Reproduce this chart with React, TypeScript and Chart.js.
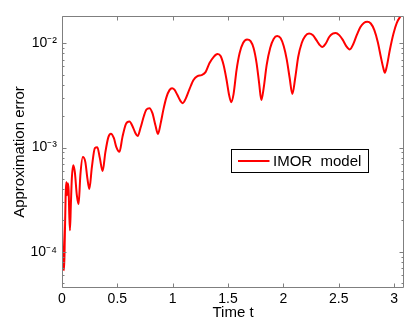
import React, { useEffect, useRef } from 'react';
import { Chart, registerables } from 'chart.js';

Chart.register(...registerables);

const timeValues = [0, 0.0045, 0.012, 0.019, 0.025, 0.033, 0.039, 0.046, 0.052, 0.060, 0.066, 0.072, 0.080, 0.089, 0.102, 0.116, 0.134, 0.150, 0.166, 0.188, 0.211, 0.229, 0.247, 0.270, 0.297, 0.319, 0.342, 0.367, 0.392, 0.419, 0.442, 0.469, 0.491, 0.519, 0.546, 0.577, 0.609, 0.641, 0.663, 0.684, 0.709, 0.740, 0.763, 0.790, 0.817, 0.844, 0.867, 0.890, 0.917, 0.944, 0.971, 0.994, 1.016, 1.043, 1.071, 1.091, 1.116, 1.152, 1.188, 1.224, 1.261, 1.297, 1.333, 1.369, 1.405, 1.433, 1.460, 1.487, 1.510, 1.529, 1.550, 1.577, 1.605, 1.636, 1.672, 1.704, 1.731, 1.758, 1.781, 1.801, 1.822, 1.849, 1.881, 1.912, 1.944, 1.976, 2.003, 2.030, 2.057, 2.081, 2.107, 2.134, 2.166, 2.197, 2.232, 2.265, 2.297, 2.329, 2.353, 2.383, 2.414, 2.446, 2.473, 2.505, 2.537, 2.568, 2.600, 2.632, 2.663, 2.695, 2.727, 2.758, 2.790, 2.822, 2.853, 2.881, 2.903, 2.917, 2.935, 2.962, 2.994, 3.025, 3.057, 3.089];

const errorValues = [2.25e-4, 1.29e-4, 6.98e-5, 6.67e-5, 1.29e-4, 3.50e-4, 4.67e-4, 3.50e-4, 4.56e-4, 3.91e-4, 2.25e-4, 1.61e-4, 2.81e-4, 5.09e-4, 6.79e-4, 5.82e-4, 3.50e-4, 2.87e-4, 5.45e-4, 8.11e-4, 7.26e-4, 5.09e-4, 4.00e-4, 6.50e-4, 9.89e-4, 1.01e-3, 7.93e-4, 5.95e-4, 9.06e-4, 1.26e-3, 1.36e-3, 1.23e-3, 1.01e-3, 9.12e-4, 1.26e-3, 1.68e-3, 1.78e-3, 1.57e-3, 1.38e-3, 1.29e-3, 1.54e-3, 2.01e-3, 2.32e-3, 2.39e-3, 2.14e-3, 1.64e-3, 1.35e-3, 1.68e-3, 2.34e-3, 3.05e-3, 3.56e-3, 3.72e-3, 3.60e-3, 3.19e-3, 2.79e-3, 2.67e-3, 2.92e-3, 3.64e-3, 4.45e-3, 4.85e-3, 4.96e-3, 5.30e-3, 6.47e-3, 7.39e-3, 7.89e-3, 7.55e-3, 6.19e-3, 4.45e-3, 3.19e-3, 2.73e-3, 3.26e-3, 5.54e-3, 8.07e-3, 1.007e-2, 1.09e-2, 1.05e-2, 9.01e-3, 6.47e-3, 4.16e-3, 2.86e-3, 3.72e-3, 6.19e-3, 9.01e-3, 1.10e-2, 1.175e-2, 1.12e-2, 9.42e-3, 7.06e-3, 4.65e-3, 3.26e-3, 4.65e-3, 7.39e-3, 1.007e-2, 1.175e-2, 1.24e-2, 1.20e-2, 1.08e-2, 9.63e-3, 9.21e-3, 9.96e-3, 1.15e-2, 1.24e-2, 1.26e-2, 1.20e-2, 1.08e-2, 9.42e-3, 8.75e-3, 9.85e-3, 1.20e-2, 1.43e-2, 1.57e-2, 1.61e-2, 1.55e-2, 1.34e-2, 1.03e-2, 7.39e-3, 5.79e-3, 5.22e-3, 6.05e-3, 8.63e-3, 1.23e-2, 1.57e-2, 1.81e-2, 2.0e-2];

const xTickValues = [0, 0.5, 1, 1.5, 2, 2.5, 3];
const xTickLabels = ['0', '0.5', '1', '1.5', '2', '2.5', '3'];
const yDecadeValues = [1e-4, 1e-3, 1e-2];
const yDecadeLabels = ['10⁻⁴', '10⁻³', '10⁻²'];
const seriesLabel = 'IMOR  model';
const xTitle = 'Time t';
const yTitle = 'Approximation error';
const xRange = [0, 3.09];
const yRange = [4.5e-5, 1.83e-2];

const FONT = 'Liberation Sans, Arial, Helvetica, sans-serif';
const AXIS_COLOR = '#7f7f7f';

const framePlugin = {
  id: 'matlabFrame',
  afterDatasetsDraw(chart: any) {
    const { ctx, chartArea: ca, scales } = chart;
    const xs = scales.x;
    const ys = scales.y;
    const L = Math.round(ca.left) + 0.5;
    const R = Math.round(ca.right) - 0.5;
    const T = Math.round(ca.top) + 0.5;
    const B = Math.round(ca.bottom) - 0.5;
    ctx.save();
    ctx.strokeStyle = AXIS_COLOR;
    ctx.lineWidth = 1;
    ctx.beginPath();
    ctx.rect(L, T, R - L, B - T);
    ctx.stroke();
    ctx.beginPath();
    xTickValues.forEach((v) => {
      const px = Math.round(xs.getPixelForValue(v)) + 0.5;
      ctx.moveTo(px, B);
      ctx.lineTo(px, B - 4);
      ctx.moveTo(px, T);
      ctx.lineTo(px, T + 4);
    });
    for (let e = -6; e <= 0; e++) {
      const d = Math.pow(10, e);
      for (let k = 1; k <= 9; k++) {
        const v = k * d;
        if (v < yRange[0] || v > yRange[1]) continue;
        const py = Math.round(ys.getPixelForValue(v)) + 0.5;
        const len = k === 1 ? 4 : 2;
        ctx.moveTo(L, py);
        ctx.lineTo(L + len, py);
        ctx.moveTo(R, py);
        ctx.lineTo(R - len, py);
      }
    }
    ctx.stroke();
    ctx.restore();
  },
  afterDraw(chart: any) {
    const { ctx, chartArea: ca } = chart;
    const ds = chart.data.datasets[0];
    const bx = Math.round(ca.left + 168.5) + 0.5;
    const by = Math.round(ca.top + 133.3) + 0.5;
    const bw = 137;
    const bh = 23;
    ctx.save();
    ctx.fillStyle = '#ffffff';
    ctx.fillRect(bx, by, bw, bh);
    ctx.strokeStyle = '#000000';
    ctx.lineWidth = 1;
    ctx.strokeRect(bx, by, bw, bh);
    ctx.strokeStyle = ds.borderColor;
    ctx.lineWidth = 2;
    ctx.beginPath();
    ctx.moveTo(bx + 6.5, by + bh / 2);
    ctx.lineTo(bx + 38, by + bh / 2);
    ctx.stroke();
    ctx.fillStyle = '#000000';
    ctx.font = `15px ${FONT}`;
    ctx.textBaseline = 'middle';
    ctx.textAlign = 'left';
    ctx.fillText(ds.label, bx + 41.5, by + bh / 2 + 1);
    ctx.restore();
  },
};

export default function App() {
  const ref = useRef<HTMLCanvasElement | null>(null);
  useEffect(() => {
    if (!ref.current) return;
    const points = timeValues.map((t, i) => ({ x: t, y: errorValues[i] }));
    const chart = new Chart(ref.current, {
      type: 'line',
      data: {
        datasets: [
          {
            label: seriesLabel,
            data: points,
            borderColor: '#ff0000',
            backgroundColor: '#ff0000',
            borderWidth: 2,
            pointRadius: 0,
            cubicInterpolationMode: 'monotone',
            fill: false,
          },
        ],
      },
      options: {
        animation: false,
        responsive: false,
        devicePixelRatio: 1,
        parsing: false,
        normalized: true,
        layout: { padding: { top: 16, right: 1, left: 0, bottom: 0 } },
        plugins: { legend: { display: false }, tooltip: { enabled: false } },
        scales: {
          x: {
            type: 'linear',
            min: xRange[0],
            max: xRange[1],
            grid: { display: false, drawTicks: false },
            border: { display: false },
            afterBuildTicks: (s: any) => {
              s.ticks = xTickValues.map((v) => ({ value: v }));
            },
            afterFit: (s: any) => {
              s.height = 36;
            },
            ticks: {
              autoSkip: false,
              maxRotation: 0,
              padding: 3,
              color: '#000',
              font: { family: FONT, size: 14 },
              callback: (v: any) => {
                const i = xTickValues.findIndex((t) => Math.abs(t - Number(v)) < 1e-9);
                return i >= 0 ? xTickLabels[i] : '';
              },
            },
            title: {
              display: true,
              text: xTitle,
              color: '#000',
              font: { family: FONT, size: 15 },
              padding: { top: 0, bottom: 2 },
            },
          },
          y: {
            type: 'logarithmic',
            min: yRange[0],
            max: yRange[1],
            grid: { display: false, drawTicks: false },
            border: { display: false },
            afterBuildTicks: (s: any) => {
              s.ticks = yDecadeValues.map((v) => ({ value: v }));
            },
            afterFit: (s: any) => {
              s.width = 62;
            },
            ticks: {
              autoSkip: false,
              padding: 5,
              color: '#000',
              font: { family: FONT, size: 14 },
              callback: (v: any) => {
                const i = yDecadeValues.findIndex((t) => Math.abs(t - Number(v)) / t < 1e-6);
                return i >= 0 ? yDecadeLabels[i] : '';
              },
            },
            title: {
              display: true,
              text: yTitle,
              color: '#000',
              font: { family: FONT, size: 15 },
              padding: { top: 11, bottom: 0 },
            },
          },
        },
      },
      plugins: [framePlugin],
    } as any);
    return () => chart.destroy();
  }, []);
  return (
    <div style={{ position: 'fixed', left: 0, top: 0, width: 405, height: 324, background: '#fff', overflow: 'hidden' }}>
      <canvas ref={ref} width={405} height={324} style={{ display: 'block', width: 405, height: 324 }} />
    </div>
  );
}
